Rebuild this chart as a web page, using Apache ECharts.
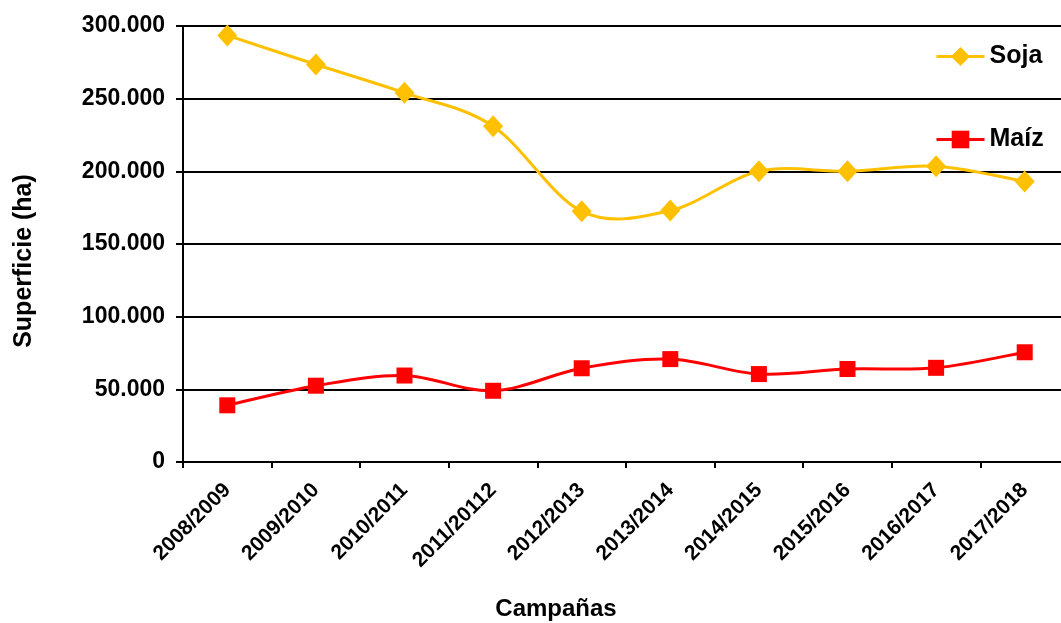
<!DOCTYPE html>
<html>
<head>
<meta charset="utf-8">
<script src="https://cdn.jsdelivr.net/npm/echarts@6/dist/echarts.min.js"></script>
<style>html,body{margin:0;padding:0;background:#fff}#c{width:1061px;height:623px}</style>
</head>
<body>
<div id="c"></div>
<script>
const categories = ['2008/2009','2009/2010','2010/2011','2011/20112','2012/2013','2013/2014','2014/2015','2015/2016','2016/2017','2017/2018'];
const soja = [293500, 273500, 254000, 231000, 172500, 173000, 200000, 200000, 203500, 193000];
const maiz = [39000, 52500, 59500, 49000, 64500, 70800, 60500, 64000, 64800, 75500];
const yTicks = [0, 50000, 100000, 150000, 200000, 250000, 300000];

const FONT = "'Liberation Sans', Arial, sans-serif";
const SOJA_COLOR = '#FFC000', MAIZ_COLOR = '#FF0000';
function fmt(v){ return v === 0 ? '0' : String(v).replace(/\B(?=(\d{3})+(?!\d))/g, '.'); }

// Excel-like smoothed curve (Catmull-Rom) through the data points, positioned via the chart's scales
function smoothRender(values, color){
  return function(params, api){
    if (params.dataIndex !== 0) return null;
    const p = values.map((v, i) => api.coord([i, v]));
    const n = p.length;
    let d = 'M' + p[0][0] + ' ' + p[0][1];
    for (let i = 0; i < n - 1; i++){
      const p0 = p[Math.max(i - 1, 0)], p1 = p[i], p2 = p[i + 1], p3 = p[Math.min(i + 2, n - 1)];
      const c1x = p1[0] + (p2[0] - p0[0]) / 6, c1y = p1[1] + (p2[1] - p0[1]) / 6;
      const c2x = p2[0] - (p3[0] - p1[0]) / 6, c2y = p2[1] - (p3[1] - p1[1]) / 6;
      d += ' C' + c1x + ' ' + c1y + ' ' + c2x + ' ' + c2y + ' ' + p2[0] + ' ' + p2[1];
    }
    return { type: 'path', shape: { pathData: d }, style: { stroke: color, lineWidth: 3, fill: null }, silent: true };
  };
}

const chart = echarts.init(document.getElementById('c'), null, {renderer:'canvas'});
chart.setOption({
  animation: false,
  backgroundColor: '#fff',
  textStyle: { fontFamily: FONT },
  grid: { left: 183, top: 26, width: 886, height: 436, containLabel: false, outerBoundsMode: 'none' },
  legend: [
    { data: [{ name: 'Soja', lineStyle: { color: SOJA_COLOR, width: 3, opacity: 1 } }],
      left: 935, top: 44, padding: 0, itemWidth: 48, itemHeight: 24, itemGap: 6,
      textStyle: { fontFamily: FONT, fontSize: 25, fontWeight: 'bold', color: '#000' } },
    { data: [{ name: 'Maíz', lineStyle: { color: MAIZ_COLOR, width: 3, opacity: 1 } }],
      left: 935, top: 127, padding: 0, itemWidth: 48, itemHeight: 22, itemGap: 6,
      textStyle: { fontFamily: FONT, fontSize: 25, fontWeight: 'bold', color: '#000' } }
  ],
  xAxis: {
    type: 'category', data: categories, boundaryGap: true,
    axisLine: { lineStyle: { color: '#000', width: 2 } },
    axisTick: { show: true, length: 6, lineStyle: { color: '#000', width: 2 } },
    axisLabel: { rotate: 45, margin: 25, fontFamily: FONT, fontSize: 21, fontWeight: 'bold', color: '#000', interval: 0 },
    splitLine: { show: false }
  },
  yAxis: {
    type: 'value', min: yTicks[0], max: yTicks[yTicks.length-1], interval: yTicks[1]-yTicks[0],
    axisLine: { show: true, lineStyle: { color: '#000', width: 2 } },
    axisTick: { show: true, length: 7, lineStyle: { color: '#000', width: 2 } },
    axisLabel: { formatter: fmt, margin: 18, fontFamily: FONT, fontSize: 23, fontWeight: 'bold', color: '#000' },
    splitLine: { show: true, lineStyle: { color: '#000', width: 2 } }
  },
  graphic: [
    { type: 'text', x: 24, y: 261, rotation: Math.PI/2,
      style: { text: 'Superficie (ha)', font: "bold 25px 'Liberation Sans', Arial, sans-serif", fill: '#000', align: 'center', verticalAlign: 'middle' } },
    { type: 'text', x: 556, y: 609,
      style: { text: 'Campañas', font: "bold 24px 'Liberation Sans', Arial, sans-serif", fill: '#000', align: 'center', verticalAlign: 'middle' } }
  ],
  series: [
    { name: 'SojaCurve', type: 'custom', data: soja.map((v, i) => [i, v]), encode: { x: 0, y: 1 },
      renderItem: smoothRender(soja, SOJA_COLOR), z: 1 },
    { name: 'MaizCurve', type: 'custom', data: maiz.map((v, i) => [i, v]), encode: { x: 0, y: 1 },
      renderItem: smoothRender(maiz, MAIZ_COLOR), z: 1 },
    { name: 'Soja', type: 'line', data: soja,
      symbol: 'diamond', symbolSize: [20, 22], z: 3,
      lineStyle: { color: SOJA_COLOR, width: 3, opacity: 0 },
      itemStyle: { color: SOJA_COLOR } },
    { name: 'Maíz', type: 'line', data: maiz,
      symbol: 'rect', symbolSize: 16, z: 3,
      lineStyle: { color: MAIZ_COLOR, width: 3, opacity: 0 },
      itemStyle: { color: MAIZ_COLOR } }
  ]
});
</script>
</body>
</html>
